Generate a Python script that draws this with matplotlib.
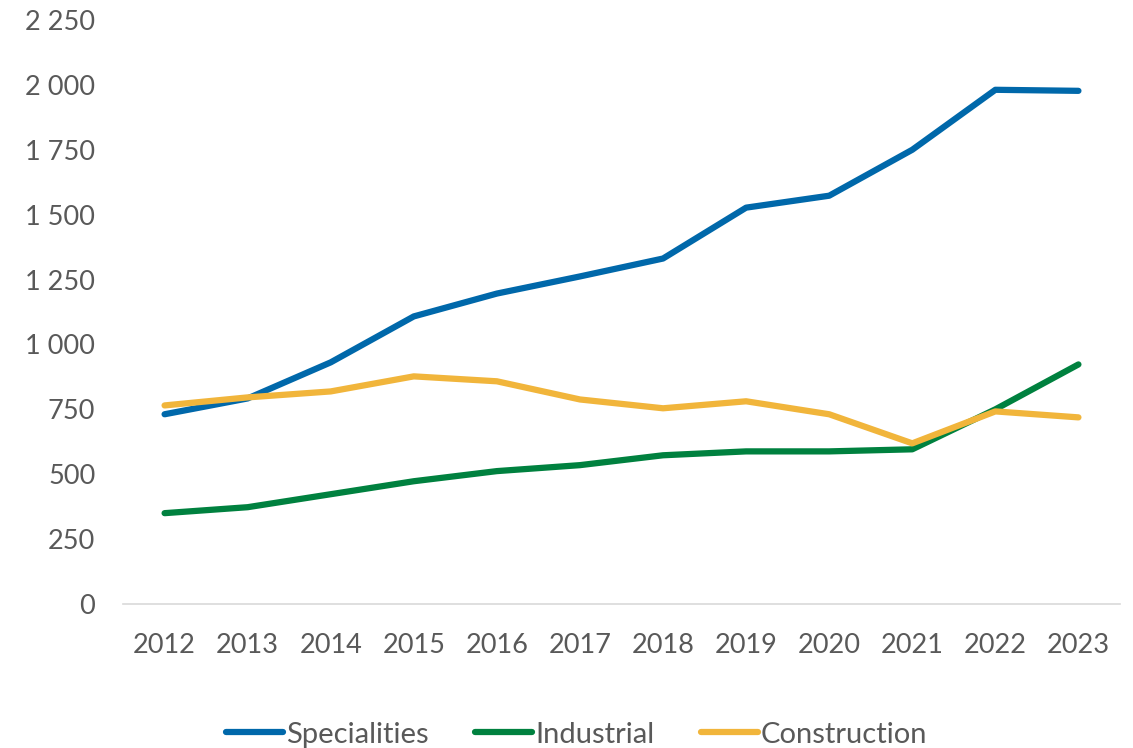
import matplotlib.pyplot as plt
from matplotlib.ticker import FuncFormatter

years = ['2012', '2013', '2014', '2015', '2016', '2017', '2018', '2019', '2020', '2021', '2022', '2023']
specialities = [731, 792, 931, 1108, 1196, 1262, 1331, 1527, 1573, 1750, 1981, 1977]
industrial = [350, 373, 423, 473, 512, 535, 573, 588, 588, 596, 750, 923]
construction = [765, 796, 819, 877, 858, 788, 754, 781, 731, 619, 742, 719]

plt.rcParams['font.family'] = ['Lato', 'DejaVu Sans']
grey = '#595959'

fig = plt.figure(figsize=(11.33, 7.48), dpi=100)
ax = fig.add_axes([0.1086, 0.1925, 0.8799, 0.7808])

x = range(len(years))
ax.plot(x, specialities, color='#0068AA', lw=4.5, solid_capstyle='round', solid_joinstyle='round', label='Specialities')
ax.plot(x, industrial, color='#00813F', lw=4.5, solid_capstyle='round', solid_joinstyle='round', label='Industrial')
ax.plot(x, construction, color='#F1B53B', lw=4.5, solid_capstyle='round', solid_joinstyle='round', label='Construction')

ax.set_xlim(-0.5, len(years) - 0.5)
ax.set_ylim(0, 2250)
ax.set_yticks(range(0, 2251, 250))
ax.yaxis.set_major_formatter(FuncFormatter(lambda v, p: f'{int(v):,}'.replace(',', ' ')))
ax.set_xticks(list(x))
ax.set_xticklabels(years)

for s in ['top', 'right', 'left']:
    ax.spines[s].set_visible(False)
ax.spines['bottom'].set_color('#D9D9D9')
ax.spines['bottom'].set_linewidth(1.2)
ax.tick_params(axis='both', length=0, labelsize=19.5, labelcolor=grey)
ax.tick_params(axis='y', pad=20)
ax.tick_params(axis='x', pad=21)

leg = fig.legend(loc='center', bbox_to_anchor=(0.509, 0.018), ncol=3, frameon=False,
                 fontsize=21, handlelength=1.95, columnspacing=1.6, handletextpad=0.1)
for t in leg.get_texts():
    t.set_color(grey)

fig.savefig('out.png', dpi=100)
